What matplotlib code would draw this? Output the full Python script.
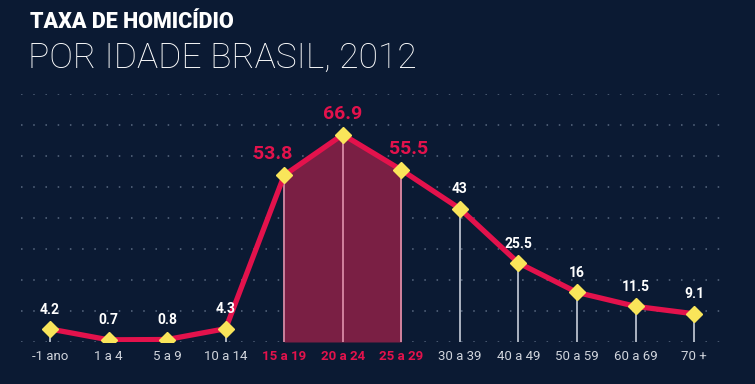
import matplotlib
matplotlib.use("Agg")
import matplotlib.pyplot as plt
import numpy as np

# data
faixas = ['-1 ano', '1 a 4', '5 a 9', '10 a 14', '15 a 19', '20 a 24',
          '25 a 29', '30 a 39', '40 a 49', '50 a 59', '60 a 69', '70 +']
taxa = [4.2, 0.7, 0.8, 4.3, 53.8, 66.9, 55.5, 43, 25.5, 16, 11.5, 9.1]
destaque = ['15 a 19', '20 a 24', '25 a 29']
valor_txt = ['4.2', '0.7', '0.8', '4.3', '53.8', '66.9', '55.5', '43',
             '25.5', '16', '11.5', '9.1']

bg = '#0b1a33'
red = '#e3124c'
shade = '#7a1f44'
yellow = '#f9e55a'

plt.rcParams['font.family'] = ['Roboto', 'DejaVu Sans']

fig = plt.figure(figsize=(7.55, 3.84), dpi=100, facecolor=bg)
ax = fig.add_axes([21 / 755, (384 - 342) / 384, 703 / 755, 248 / 384])
ax.set_facecolor(bg)

x = np.arange(len(faixas))
hl = [i for i, f in enumerate(faixas) if f in destaque]

ax.set_xlim(-0.495, 11.51)
ax.set_ylim(0, 80)

# dotted grid
for v in range(0, 81, 10):
    ax.axhline(v, color='#5a6a82', lw=1.1, ls=(0, (1, 7)), zorder=0)

# shaded band under the highlighted ages
ax.fill_between(x[hl[0]:hl[-1] + 1], 0, taxa[hl[0]:hl[-1] + 1],
                color=shade, lw=0, zorder=1)

# drop lines
for i in x:
    c = '#d98aa5' if i in hl else '#b8c0cc'
    ax.plot([i, i], [0, taxa[i]], color=c, lw=1.3, zorder=2)

ax.plot(x, taxa, color=red, lw=3.8, zorder=3, solid_joinstyle='round')
ax.plot(x, taxa, ls='none', marker='D', ms=8.5, mfc=yellow, mec=yellow, zorder=4)

for i in x:
    if i in hl:
        dx = {4: -8, 5: 0, 6: 5}[i]
        ax.annotate(valor_txt[i], (i, taxa[i]), xytext=(dx, 15), textcoords='offset points',
                    ha='center', va='center', color=red, fontsize=14,
                    fontweight='bold', annotation_clip=False)
    else:
        ax.annotate(valor_txt[i], (i, taxa[i]), xytext=(0, 14), textcoords='offset points',
                    ha='center', va='center', color='white', fontsize=10,
                    fontweight='bold', annotation_clip=False)

ax.set_xticks(x)
ax.set_xticklabels(faixas)
ax.tick_params(axis='x', length=0, pad=6, labelsize=9.5, colors='#d0d4dc')
for i, lab in enumerate(ax.get_xticklabels()):
    if i in hl:
        lab.set_color(red)
        lab.set_fontweight('bold')
ax.set_yticks([])
for s in ax.spines.values():
    s.set_visible(False)

fig.text(30 / 755, 1 - 22 / 384, 'TAXA DE HOMICÍDIO', color='white', fontsize=15.5,
         fontweight='heavy', va='center', ha='left')
fig.text(28 / 755, 1 - 58 / 384, 'POR IDADE BRASIL, 2012', color='white', fontsize=25.5,
         fontweight='light', va='center', ha='left')

fig.savefig('out.png', dpi=100, facecolor=bg)
